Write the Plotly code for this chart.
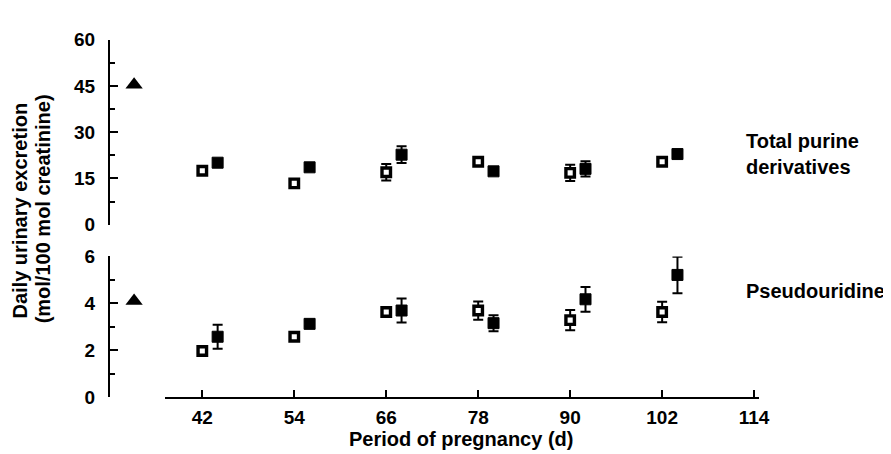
import plotly.graph_objects as go

# ---- data ----
days_open = [42, 54, 66, 78, 90, 102]
days_filled = [44, 56, 68, 80, 92, 104]

tpd_open = [17.5, 13.4, 17.0, 20.4, 16.8, 20.4]
tpd_open_err = [1.0, 0.8, 2.7, 1.2, 2.6, 1.0]
tpd_filled = [20.1, 18.6, 22.7, 17.3, 18.1, 22.9]
tpd_filled_err = [1.0, 0.8, 2.7, 1.2, 2.5, 1.0]

psu_open = [1.96, 2.57, 3.63, 3.69, 3.28, 3.63]
psu_open_err = [0.1, 0.1, 0.15, 0.39, 0.43, 0.44]
psu_filled = [2.57, 3.12, 3.69, 3.15, 4.17, 5.21]
psu_filled_err = [0.51, 0.1, 0.51, 0.34, 0.53, 0.78]

ref_day = [33.1]
ref_tpd = [45.4]
ref_psu = [4.10]

x_ticks = [42, 54, 66, 78, 90, 102, 114]
tpd_ticks = [0, 15, 30, 45, 60]
psu_ticks = [0, 2, 4, 6]

W, H = 891, 454
FONT = "Liberation Sans"

# pixel geometry of the axes
X_LEFT, X_RIGHT = 158.3, 760.0
X_MIN, X_MAX = 37.07, 114.7
Y_AXIS_PX = 102.0
PX_PER_DAY = (X_RIGHT - X_LEFT) / (X_MAX - X_MIN)
X_MIN_WIDE = X_MIN - (X_LEFT - Y_AXIS_PX) / PX_PER_DAY


def px_x(p):
    return p / W


def px_y(p):
    return 1 - p / H


fig = go.Figure()


def err(vals):
    return dict(type="data", array=vals, visible=True, color="black",
                thickness=2, width=5)


open_marker = dict(symbol="square", size=8.5, color="white",
                   line=dict(color="black", width=3.4))
filled_marker = dict(symbol="square", size=11, color="black",
                     line=dict(color="black", width=1))
tri_marker = dict(symbol="triangle-up", size=15, color="black")

# top panel: total purine derivatives
fig.add_trace(go.Scatter(x=days_open, y=tpd_open, mode="markers",
                         marker=open_marker, error_y=err(tpd_open_err),
                         xaxis="x", yaxis="y2", showlegend=False))
fig.add_trace(go.Scatter(x=days_filled, y=tpd_filled, mode="markers",
                         marker=filled_marker, error_y=err(tpd_filled_err),
                         xaxis="x", yaxis="y2", showlegend=False))
fig.add_trace(go.Scatter(x=ref_day, y=ref_tpd, mode="markers",
                         marker=tri_marker,
                         xaxis="x2", yaxis="y2", showlegend=False))

# bottom panel: pseudouridine
fig.add_trace(go.Scatter(x=days_open, y=psu_open, mode="markers",
                         marker=open_marker, error_y=err(psu_open_err),
                         xaxis="x", yaxis="y", showlegend=False))
fig.add_trace(go.Scatter(x=days_filled, y=psu_filled, mode="markers",
                         marker=filled_marker, error_y=err(psu_filled_err),
                         xaxis="x", yaxis="y", showlegend=False))
fig.add_trace(go.Scatter(x=ref_day, y=ref_psu, mode="markers",
                         marker=tri_marker,
                         xaxis="x2", yaxis="y", showlegend=False))

tickfont = dict(family=FONT, size=19, color="black", weight="bold")
axis_common = dict(showline=True, linecolor="black", linewidth=2,
                   showgrid=False, zeroline=False, ticks="inside",
                   tickwidth=2, tickcolor="black", tickfont=tickfont)

fig.update_layout(
    width=W, height=H,
    margin=dict(l=0, r=0, t=0, b=0),
    paper_bgcolor="white", plot_bgcolor="rgba(0,0,0,0)",
    xaxis=dict(domain=[px_x(X_LEFT), px_x(X_RIGHT)], range=[X_MIN, X_MAX],
               anchor="y", tickvals=x_ticks, ticklen=7,
               ticklabelstandoff=2, **axis_common),
    # hidden x axis on the same scale, reaching the y axes (reference marks)
    xaxis2=dict(domain=[px_x(Y_AXIS_PX), px_x(X_RIGHT)],
                range=[X_MIN_WIDE, X_MAX], anchor="y", visible=False),
    yaxis=dict(domain=[px_y(397.3), px_y(250)], range=[0, 6],
               anchor="free", position=px_x(Y_AXIS_PX), side="left",
               tickvals=psu_ticks, ticklen=8, ticklabelstandoff=9,
               minor=dict(ticks="inside", ticklen=5, tickwidth=2,
                          tickcolor="black", dtick=1, tick0=0),
               **axis_common),
    yaxis2=dict(domain=[px_y(216.7), px_y(22.7)], range=[0, 60],
                anchor="free", position=px_x(Y_AXIS_PX), side="left",
                tickvals=tpd_ticks, ticklen=8, ticklabelstandoff=9,
                minor=dict(ticks="inside", ticklen=5, tickwidth=2,
                           tickcolor="black", dtick=7.5, tick0=0),
                **axis_common),
)

txt = dict(family=FONT, size=20, color="black", weight="bold")
ann = [
    dict(text="Daily urinary excretion", x=px_x(12), y=px_y(202),
         textangle=-90),
    dict(text="(mol/100 mol creatinine)", x=px_x(35), y=px_y(200),
         textangle=-90),
    dict(text="Period of pregnancy (d)", x=px_x(458), y=px_y(441)),
    dict(text="Total purine<br>derivatives", x=px_x(744), y=px_y(143),
         xanchor="left", align="left"),
    dict(text="Pseudouridine", x=px_x(744), y=px_y(286), xanchor="left"),
]
for a in ann:
    a.setdefault("xanchor", "center")
    fig.add_annotation(xref="paper", yref="paper", yanchor="middle",
                       showarrow=False, font=txt, **a)

fig.write_html("out.html")
